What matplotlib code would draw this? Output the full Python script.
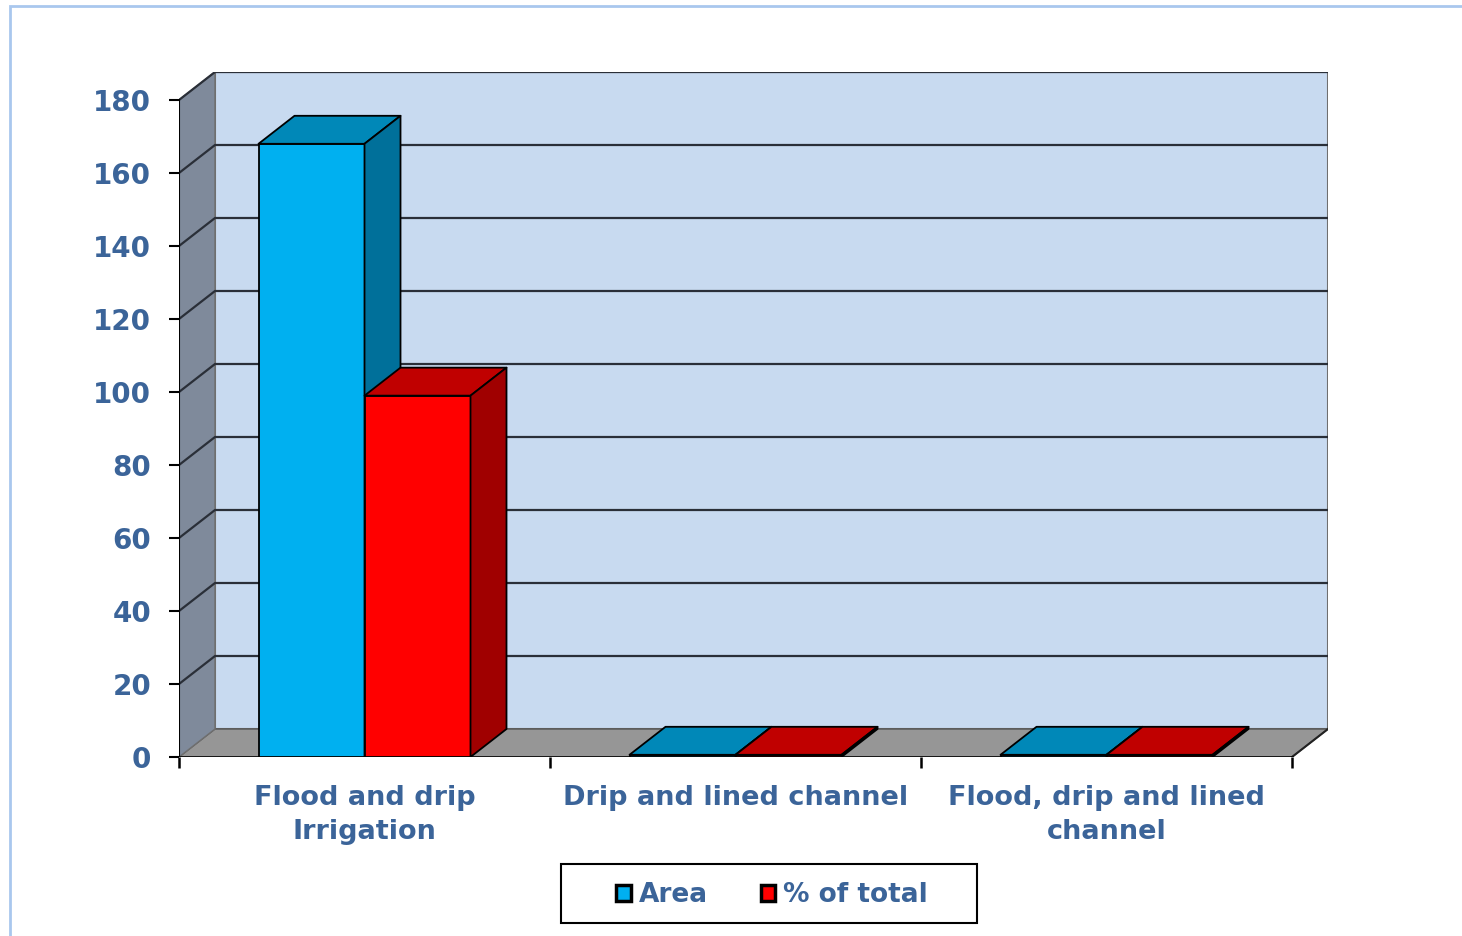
import matplotlib.pyplot as plt
import matplotlib.patches as mpatches

categories = ['Flood and drip\nIrrigation', 'Drip and lined channel',
              'Flood, drip and lined\nchannel']
area = [168, 0.6, 0.6]
pct_total = [99, 0.6, 0.6]
yticks = [0, 20, 40, 60, 80, 100, 120, 140, 160, 180]

series = [
    ('Area', area, ('#00b0f0', '#0088b8', '#00709a')),
    ('% of total', pct_total, ('#ff0000', '#c00000', '#a00000')),
]

text_color = '#3b6499'
W, H = 1462, 936
fig = plt.figure(figsize=(W / 100, H / 100), dpi=100)
fig.patch.set_facecolor('white')

# frame around the chart area
fig.add_artist(mpatches.Rectangle((9.5 / W, -0.1), 1.2, 1.1 - 6.5 / H,
                                  transform=fig.transFigure, fill=False,
                                  edgecolor='#a9c7ee', lw=2))

ax = fig.add_axes([179 / W, 1 - 757 / H, (1328 - 179) / W, (757 - 72) / H])
ymax = yticks[-1]
ncat = len(categories)
dx = 36 / ((1292 - 179) / ncat)   # depth offset in category units
dy = 28 / ((757 - 100) / ymax)    # depth offset in value units
ax.set_xlim(0, ncat + dx)
ax.set_ylim(0, ymax + dy)
for s in ax.spines.values():
    s.set_visible(False)
ax.patch.set_visible(False)

# back wall, floor and side wall
ax.fill([dx, ncat + dx, ncat + dx, dx], [dy, dy, ymax + dy, ymax + dy],
        facecolor='#c8daf0', edgecolor='#6f6f6f', lw=1.5, zorder=1)
ax.fill([0, ncat, ncat + dx, dx], [0, 0, dy, dy],
        facecolor='#969696', edgecolor='#555555', lw=1, zorder=1)
ax.fill([0, dx, dx, 0], [0, dy, ymax + dy, ymax],
        facecolor='#7f8a9b', edgecolor='#6f6f6f', lw=1, zorder=1)
ax.plot([ncat, ncat + dx], [0, dy], color='#222222', lw=1.5, zorder=2)

# gridlines on the side and back walls
for v in yticks[1:]:
    ax.plot([0, dx, ncat + dx], [v, v + dy, v + dy], color='#2a2f38',
            lw=1.6, zorder=2)

# front axis lines
ax.plot([0, 0], [0, ymax], color='black', lw=1.5, zorder=2)
ax.plot([0, ncat], [0, 0], color='black', lw=1.8, zorder=2)

bw = 106 / ((1292 - 179) / ncat)

def bar3d(x0, h, colors):
    front, top, side = colors
    kw = dict(edgecolor='black', lw=1.3, zorder=3, joinstyle='round')
    ax.fill([x0, x0 + bw, x0 + bw, x0], [0, 0, h, h], facecolor=front, **kw)
    ax.fill([x0, x0 + bw, x0 + bw + dx, x0 + dx], [h, h, h + dy, h + dy],
            facecolor=top, **kw)
    ax.fill([x0 + bw, x0 + bw + dx, x0 + bw + dx, x0 + bw],
            [0, dy, h + dy, h], facecolor=side, **kw)

for i in range(ncat):
    for j, (name, vals, cols) in enumerate(series):
        bar3d(i + 0.5 - bw + j * bw, vals[i], cols)

# ticks and labels
ax.set_yticks(yticks)
ax.set_yticklabels([str(v) for v in yticks])
ax.set_xticks(range(ncat + 1))
ax.set_xticklabels([])
ax.set_xticks([i + 0.5 for i in range(ncat)], minor=True)
ax.set_xticklabels(categories, minor=True)
ax.tick_params(axis='y', direction='out', length=7, width=1.5,
               color='black', pad=13, labelsize=20, labelcolor=text_color)
ax.tick_params(axis='x', which='major', direction='out', length=8,
               width=1.8, color='black')
ax.tick_params(axis='x', which='minor', length=0, pad=20, labelsize=19.5,
               labelcolor=text_color)
for lab in ax.get_yticklabels() + ax.get_xticklabels(minor=True):
    lab.set_fontweight('bold')
for lab in ax.get_xticklabels(minor=True):
    lab.set_multialignment('center')
    lab.set_linespacing(1.42)

# legend
handles = [mpatches.Patch(facecolor=c[0], edgecolor='black', lw=2.5)
           for _, _, c in series]
leg = fig.legend(handles, [s[0] for s in series], loc='center',
                 bbox_to_anchor=(772 / W, 1 - 895 / H), ncol=2,
                 frameon=False, handlelength=0.55, handleheight=0.55,
                 handletextpad=0.3, columnspacing=2.0,
                 prop={'size': 19, 'weight': 'bold'})
for t in leg.get_texts():
    t.set_color(text_color)
fig.add_artist(mpatches.Rectangle((561 / W, 1 - 923 / H), 416 / W, 59 / H,
                                  transform=fig.transFigure, fill=False,
                                  edgecolor='black', lw=1.5))

fig.savefig('out.png', dpi=100)
